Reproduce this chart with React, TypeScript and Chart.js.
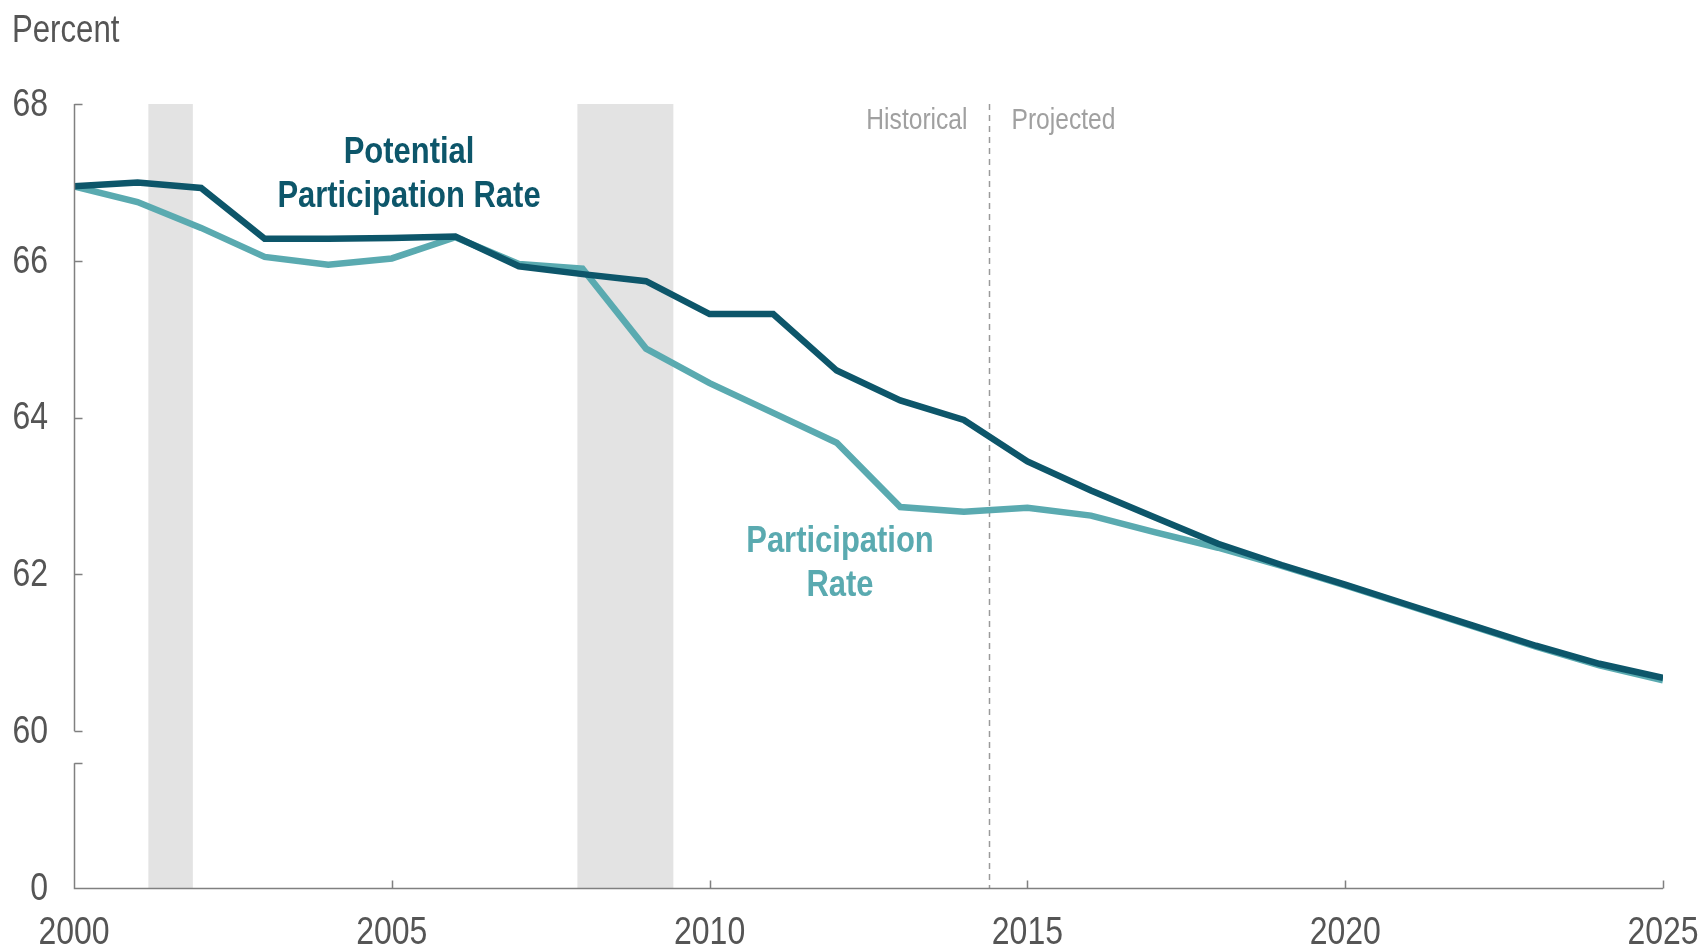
import { useEffect, useRef } from 'react';
import { Chart, registerables } from 'chart.js';

Chart.register(...registerables);

// ---- Data ----
const years = [
  2000, 2001, 2002, 2003, 2004, 2005, 2006, 2007, 2008, 2009, 2010, 2011, 2012,
  2013, 2014, 2015, 2016, 2017, 2018, 2019, 2020, 2021, 2022, 2023, 2024, 2025,
];
const potentialRate = [
  66.95, 67.0, 66.93, 66.28, 66.28, 66.29, 66.31, 65.93, 65.83, 65.74, 65.32,
  65.32, 64.6, 64.22, 63.97, 63.44, 63.07, 62.73, 62.39, 62.12, 61.87, 61.61,
  61.35, 61.09, 60.86, 60.68,
];
const participationRate = [
  66.95, 66.75, 66.42, 66.05, 65.95, 66.03, 66.3, 65.96, 65.9, 64.88, 64.44,
  64.06, 63.68, 62.86, 62.8, 62.85, 62.75, 62.54, 62.34, 62.11, 61.86, 61.6,
  61.34, 61.08, 60.84, 60.65,
];
const recessions: [number, number][] = [
  [2001.17, 2001.87],
  [2007.92, 2009.43],
];
const projectionStart = 2014.4;
const xTickValues = [2000, 2005, 2010, 2015, 2020, 2025];
const yTickValues = [58, 60, 62, 64, 66, 68];
const yTickLabels = ['0', '60', '62', '64', '66', '68'];
const axisBreakAfter = 60;

// ---- Styles ----
const FONT = "'Liberation Sans', Arial, sans-serif";
const NARROW = 0.82;
const NARROW_BOLD = 0.86;
const DARK = '#0d566a';
const LIGHT = '#5aaab0';
const AXIS = '#808080';
const TEXT = '#555555';

function narrowText(
  ctx: CanvasRenderingContext2D,
  text: string,
  x: number,
  y: number,
  align: CanvasTextAlign,
  baseline: CanvasTextBaseline,
  factor: number = NARROW
) {
  ctx.save();
  ctx.translate(x, y);
  ctx.scale(factor, 1);
  ctx.textAlign = align;
  ctx.textBaseline = baseline;
  ctx.fillText(text, 0, 0);
  ctx.restore();
}

const overlayPlugin = {
  id: 'overlay',
  beforeDatasetsDraw(chart: any) {
    const { ctx, chartArea, scales } = chart;
    const x = scales.x;
    ctx.save();
    ctx.fillStyle = '#e3e3e3';
    for (const [a, b] of recessions) {
      const x1 = x.getPixelForValue(a);
      const x2 = x.getPixelForValue(b);
      ctx.fillRect(x1, chartArea.top, x2 - x1, chartArea.bottom - chartArea.top);
    }
    const px = Math.round(x.getPixelForValue(projectionStart)) + 0.5;
    ctx.strokeStyle = '#9a9a9a';
    ctx.lineWidth = 1.5;
    ctx.setLineDash([6, 5]);
    ctx.beginPath();
    ctx.moveTo(px, chartArea.top);
    ctx.lineTo(px, chartArea.bottom);
    ctx.stroke();
    ctx.setLineDash([]);

    ctx.fillStyle = '#a0a0a0';
    ctx.font = `30px ${FONT}`;
    narrowText(ctx, 'Historical', px - 22, 129, 'right', 'alphabetic');
    narrowText(ctx, 'Projected', px + 22, 129, 'left', 'alphabetic');
    ctx.restore();
  },
  afterDraw(chart: any) {
    const { ctx, chartArea, scales } = chart;
    const x = scales.x;
    const y = scales.y;
    const L = Math.round(chartArea.left) + 0.5;
    const B = Math.round(chartArea.bottom) + 0.5;
    const T = chartArea.top;
    const tick = 8;
    ctx.save();
    ctx.strokeStyle = AXIS;
    ctx.lineWidth = 1.5;
    const yBreak = y.getPixelForValue(axisBreakAfter);
    const yResume = yBreak + 32;
    ctx.beginPath();
    ctx.moveTo(L, T);
    ctx.lineTo(L, yBreak);
    ctx.moveTo(L, yResume);
    ctx.lineTo(L, B);
    ctx.lineTo(chartArea.right, B);
    ctx.stroke();
    ctx.beginPath();
    for (const t of y.ticks) {
      if (t.value < axisBreakAfter) continue;
      const py = Math.round(y.getPixelForValue(t.value)) + 0.5;
      ctx.moveTo(L, py);
      ctx.lineTo(L + tick, py);
    }
    ctx.moveTo(L, Math.round(yResume) + 0.5);
    ctx.lineTo(L + tick, Math.round(yResume) + 0.5);
    for (const t of x.ticks) {
      if (t.value === xTickValues[0]) continue;
      const pxv = Math.round(x.getPixelForValue(t.value)) + 0.5;
      ctx.moveTo(pxv, B);
      ctx.lineTo(pxv, B - tick);
    }
    ctx.stroke();

    // Tick labels
    ctx.fillStyle = TEXT;
    ctx.font = `39px ${FONT}`;
    for (const t of y.ticks) {
      const label = yTickLabels[yTickValues.indexOf(t.value)] ?? '';
      narrowText(ctx, label, 48, y.getPixelForValue(t.value) + 1, 'right', 'middle');
    }
    for (const t of x.ticks) {
      narrowText(ctx, String(t.value), x.getPixelForValue(t.value), 944, 'center', 'alphabetic');
    }

    // Title
    ctx.font = `38px ${FONT}`;
    narrowText(ctx, 'Percent', 12, 42, 'left', 'alphabetic');

    // Series labels
    ctx.font = `bold 36px ${FONT}`;
    ctx.fillStyle = DARK;
    narrowText(ctx, 'Potential', 409, 153, 'center', 'middle', NARROW_BOLD);
    narrowText(ctx, 'Participation Rate', 409, 197, 'center', 'middle', NARROW_BOLD);
    ctx.fillStyle = LIGHT;
    narrowText(ctx, 'Participation', 840, 542, 'center', 'middle', NARROW_BOLD);
    narrowText(ctx, 'Rate', 840, 586, 'center', 'middle', NARROW_BOLD);
    ctx.restore();
  },
};

export default function App() {
  const ref = useRef<HTMLCanvasElement | null>(null);
  useEffect(() => {
    if (!ref.current) return;
    const chart = new Chart(ref.current, {
      type: 'line',
      data: {
        datasets: [
          {
            label: 'Potential Participation Rate',
            data: years.map((yr, i) => ({ x: yr, y: potentialRate[i] })),
            borderColor: DARK,
            borderWidth: 6.5,
            pointRadius: 0,
            tension: 0,
          },
          {
            label: 'Participation Rate',
            data: years.map((yr, i) => ({ x: yr, y: participationRate[i] })),
            borderColor: LIGHT,
            borderWidth: 6.5,
            pointRadius: 0,
            tension: 0,
          },
        ],
      },
      options: {
        responsive: false,
        animation: false,
        layout: { padding: { top: 104, right: 40, bottom: 0, left: 0 } },
        plugins: {
          legend: { display: false },
          tooltip: { enabled: false },
          title: { display: false },
        },
        scales: {
          x: {
            type: 'linear',
            min: 2000,
            max: 2025,
            grid: { display: false, drawTicks: false },
            border: { display: false },
            afterBuildTicks: (s: any) => {
              s.ticks = xTickValues.map((v) => ({ value: v }));
            },
            afterFit: (s: any) => {
              s.height = 59;
              s.paddingLeft = 0;
              s.paddingRight = 0;
            },
            ticks: { display: false },
          },
          y: {
            type: 'linear',
            min: 58,
            max: 68,
            grid: { display: false, drawTicks: false },
            border: { display: false },
            afterBuildTicks: (s: any) => {
              s.ticks = yTickValues.map((v) => ({ value: v }));
            },
            afterFit: (s: any) => {
              s.width = 74;
              s.paddingTop = 0;
              s.paddingBottom = 0;
            },
            ticks: { display: false },
          },
        },
      },
      plugins: [overlayPlugin],
    });
    return () => chart.destroy();
  }, []);
  return (
    <div style={{ position: 'absolute', left: 0, top: 0, width: 1703, height: 947 }}>
      <canvas ref={ref} width={1703} height={947} />
    </div>
  );
}
